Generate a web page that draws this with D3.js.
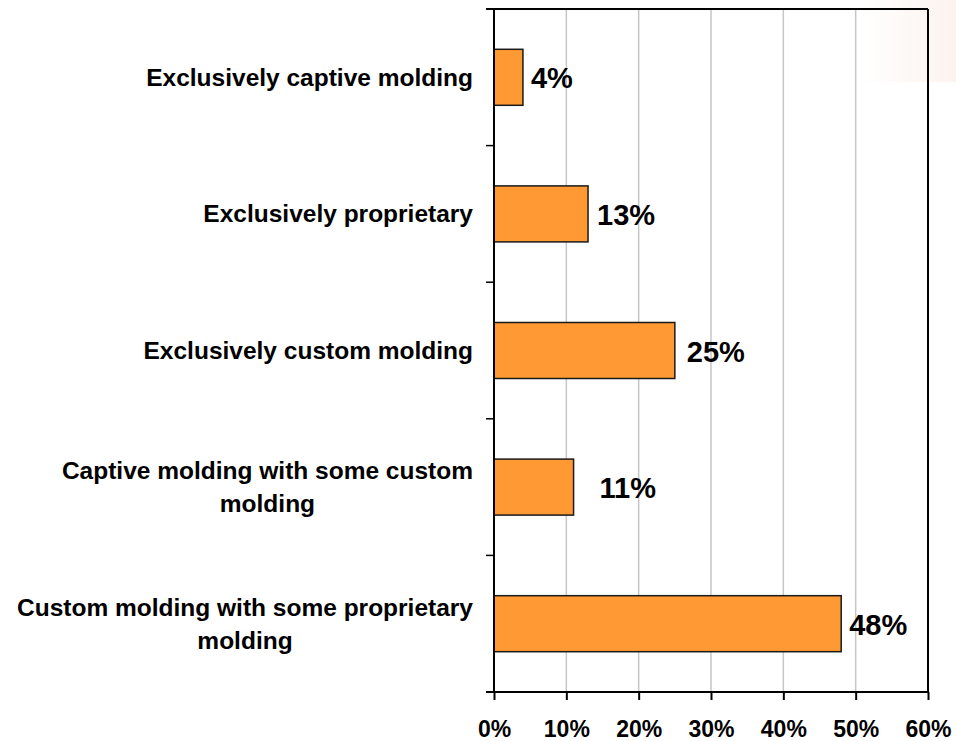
<!DOCTYPE html>
<html>
<head>
<meta charset="utf-8">
<script src="https://cdn.jsdelivr.net/npm/d3@7"></script>
<style>
  html, body { margin: 0; padding: 0; background: #fff; }
  svg { display: block; font-family: "Liberation Sans", Arial, sans-serif; font-weight: bold; }
</style>
</head>
<body>
<svg id="chart" width="956" height="741"></svg>
<script>
// ---- data ----
const categories = [
  ["Exclusively captive molding"],
  ["Exclusively proprietary"],
  ["Exclusively custom molding"],
  ["Captive molding with some custom", "molding"],
  ["Custom molding with some proprietary", "molding"]
];
const values = [0.04, 0.13, 0.25, 0.11, 0.48];
const valueLabels = ["4%", "13%", "25%", "11%", "48%"];
const xTicks = [0, 0.1, 0.2, 0.3, 0.4, 0.5, 0.6];

// ---- layout config (not data) ----
const labelGap = [8, 9, 12, 26, 8];

(function () {
const svg = d3.select("#chart");
const W = 956, H = 741;
const pLeft = 494, pRight = 928, pTop = 9, pBottom = 692;

// faint background gradient in top-right corner
const defs = svg.append("defs");
const grad = defs.append("linearGradient").attr("id", "corner").attr("x1", "0").attr("x2", "1").attr("y1", "0").attr("y2", "0");
grad.append("stop").attr("offset", "0").attr("stop-color", "#ffffff");
grad.append("stop").attr("offset", "1").attr("stop-color", "#fcf3ee");
svg.append("rect").attr("x", 862).attr("y", 0).attr("width", W - 862).attr("height", 82).attr("fill", "url(#corner)");

const keys = categories.map((c, i) => i);
const x = d3.scaleLinear().domain([0, 0.6]).range([pLeft, pRight]);
const y = d3.scaleBand().domain(keys).range([pTop, pBottom]).paddingInner(0.59).paddingOuter(0.295);

// gridlines
svg.append("g").selectAll("line").data(xTicks.slice(1, -1)).join("line")
  .attr("x1", d => x(d)).attr("x2", d => x(d))
  .attr("y1", pTop).attr("y2", pBottom)
  .attr("stroke", "#c6c6c6").attr("stroke-width", 1.5);

// bars
svg.append("g").selectAll("rect").data(values).join("rect")
  .attr("x", x(0))
  .attr("y", (d, i) => y(i))
  .attr("width", d => x(d) - x(0))
  .attr("height", y.bandwidth())
  .attr("fill", "#FF9933")
  .attr("stroke", "#1a1a1a")
  .attr("stroke-width", 1.5);

// frame: top and right borders
svg.append("line").attr("x1", pLeft - 8).attr("x2", pRight).attr("y1", pTop).attr("y2", pTop)
  .attr("stroke", "#000").attr("stroke-width", 2);
svg.append("line").attr("x1", pRight).attr("x2", pRight).attr("y1", pTop).attr("y2", pBottom)
  .attr("stroke", "#000").attr("stroke-width", 2);

// bottom axis
const xAxis = d3.axisBottom(x).tickValues(xTicks).tickFormat(d3.format(".0%")).tickSizeInner(8).tickSizeOuter(0).tickPadding(21);
const gx = svg.append("g").attr("transform", `translate(0,${pBottom})`).call(xAxis);
gx.select(".domain").remove();
gx.append("line").attr("x1", pLeft - 8).attr("x2", pRight).attr("y1", 0).attr("y2", 0).attr("stroke", "#000").attr("stroke-width", 2);
gx.selectAll(".tick line").attr("stroke", "#000").attr("stroke-width", 2);
gx.selectAll(".tick text").attr("fill", "#000").attr("font-size", 23).attr("font-weight", "bold")
  .attr("font-family", "'Liberation Sans', Arial, sans-serif");

// left axis line and category boundary ticks
svg.append("line").attr("x1", pLeft).attr("x2", pLeft).attr("y1", pTop).attr("y2", pBottom)
  .attr("stroke", "#000").attr("stroke-width", 2);
const bounds = keys.map(i => y(i) - y.step() * y.paddingInner() / 2);
bounds.push(pBottom);
svg.append("g").selectAll("line").data(bounds).join("line")
  .attr("x1", pLeft - 8).attr("x2", pLeft).attr("y1", d => d).attr("y2", d => d)
  .attr("stroke", "#000").attr("stroke-width", 1.5);

// category labels (right-aligned block, lines centred within block)
const catG = svg.append("g");
categories.forEach((lines, i) => {
  const cy = y(i) + y.bandwidth() / 2;
  const lh = 33;
  const g = catG.append("g");
  const texts = lines.map((ln, j) => g.append("text")
    .text(ln)
    .attr("font-size", 24.5)
    .attr("fill", "#000")
    .attr("text-anchor", "middle")
    .attr("dominant-baseline", "central")
    .attr("y", cy + (j - (lines.length - 1) / 2) * lh));
  const maxW = d3.max(texts, t => t.node().getComputedTextLength());
  const cx = 473 - maxW / 2;
  texts.forEach(t => t.attr("x", cx));
});

// value labels
svg.append("g").selectAll("text").data(values).join("text")
  .attr("x", (d, i) => x(d) + labelGap[i])
  .attr("y", (d, i) => y(i) + y.bandwidth() / 2 + 1)
  .attr("dominant-baseline", "central")
  .attr("font-size", 29)
  .attr("fill", "#000")
  .text((d, i) => valueLabels[i]);
})();
</script>
</body>
</html>
